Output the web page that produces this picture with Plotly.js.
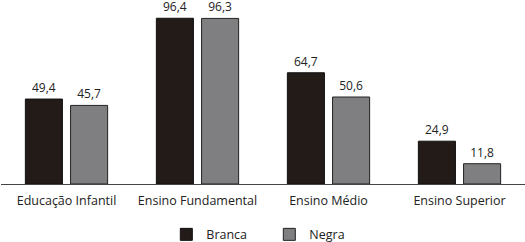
<!DOCTYPE html>
<html>
<head>
<meta charset="utf-8">
<script src="https://cdn.plot.ly/plotly-3.0.1.min.js"></script>
<style>html,body{margin:0;padding:0;background:#fff;}#chart{width:525px;height:242px;}</style>
</head>
<body>
<div id="chart"></div>
<script>
const categories = ["Educação Infantil", "Ensino Fundamental", "Ensino Médio", "Ensino Superior"];
const branca = [49.4, 96.4, 64.7, 24.9];
const negra = [45.7, 96.3, 50.6, 11.8];
const seriesNames = ["Branca", "Negra"];

const font = {family: "Open Sans, sans-serif", size: 12, color: "#222"};

const traces = [
  {
    type: "bar", name: seriesNames[0], x: categories, y: branca,
    marker: {color: "#231b18", line: {color: "#111", width: 1}},
    texttemplate: "%{y:.1f}", textposition: "outside", cliponaxis: false,
    textfont: {family: font.family, size: 12, color: "#222"}
  },
  {
    type: "bar", name: seriesNames[1], x: categories, y: negra,
    marker: {color: "#7f7f81", line: {color: "#222", width: 1}},
    texttemplate: "%{y:.1f}", textposition: "outside", cliponaxis: false,
    textfont: {family: font.family, size: 12, color: "#222"}
  }
];

const layout = {
  width: 525, height: 242,
  margin: {l: 1, r: 0, t: 10, b: 58},
  paper_bgcolor: "#fff", plot_bgcolor: "#fff",
  font: font,
  separators: ",.",
  barmode: "group",
  bargap: 0.31,
  bargroupgap: 0.18,
  showlegend: true,
  legend: {orientation: "h", x: 0.513, xanchor: "center", xref: "container",
           y: 0.03, yanchor: "middle", yref: "container",
           entrywidth: 58, entrywidthmode: "pixels",
           font: {family: font.family, size: 12.5, color: "#222"}, itemwidth: 30, tracegroupgap: 0},
  xaxis: {type: "category", showline: true, linecolor: "#444", linewidth: 1, automargin: false,
          ticks: "", ticklen: 0, ticklabelstandoff: 5,
          tickfont: {family: font.family, size: 12.5, color: "#222"}, fixedrange: true},
  yaxis: {range: [0, 101.2], visible: false, showgrid: false, zeroline: false, fixedrange: true, automargin: false}
};

Plotly.newPlot("chart", traces, layout, {displayModeBar: false, staticPlot: true});
</script>
</body>
</html>
